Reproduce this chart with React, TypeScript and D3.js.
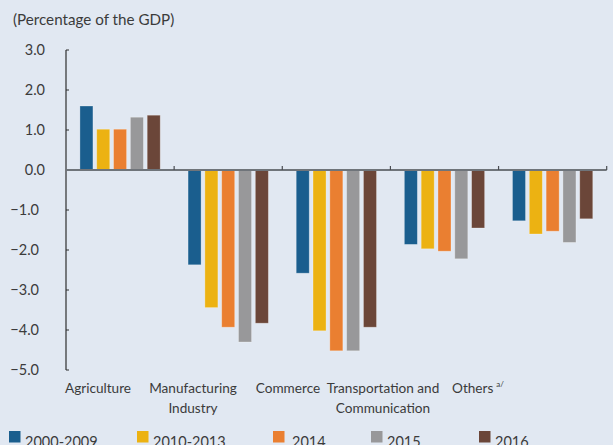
import { useEffect, useRef } from 'react';
import * as d3 from 'd3';

const categories = ['Agriculture', 'Manufacturing Industry', 'Commerce', 'Transportation and Communication', 'Others'];
const categoryLines = [['Agriculture'], ['Manufacturing', 'Industry'], ['Commerce'], ['Transportation and', 'Communication'], ['Others']];
const series = ['2000-2009', '2010-2013', '2014', '2015', '2016'];
const colors = ['#1a5e8e', '#ecb212', '#ea7f31', '#98989a', '#6b4639'];

const v2000_2009 = [1.6, -2.37, -2.58, -1.86, -1.27];
const v2010_2013 = [1.02, -3.44, -4.02, -1.97, -1.6];
const v2014 = [1.02, -3.93, -4.52, -2.03, -1.53];
const v2015 = [1.32, -4.3, -4.52, -2.22, -1.81];
const v2016 = [1.37, -3.83, -3.93, -1.45, -1.22];
const values = [v2000_2009, v2010_2013, v2014, v2015, v2016];

const yTicks = [3, 2, 1, 0, -1, -2, -3, -4, -5];
const legendX = [9, 137, 273, 371, 479];

const W = 613;
const H = 445;
const FONT = 'Lato, "Open Sans", sans-serif';
const TEXT = '#3b3b3b';

export default function App() {
  const ref = useRef<SVGSVGElement | null>(null);

  useEffect(() => {
    document.body.style.margin = '0';
    if (!ref.current) return;
    const svg = d3.select(ref.current);
    svg.selectAll('*').remove();

    svg.append('rect').attr('width', W).attr('height', H).attr('fill', '#e1e8f2');

    const x0 = d3.scaleBand<string>().domain(categories).range([66, 606.7]);
    const x1 = d3
      .scaleBand<string>()
      .domain(series)
      .range([0, x0.bandwidth()])
      .paddingInner(0.226)
      .paddingOuter(0.828);
    const y = d3.scaleLinear().domain([-5, 3]).range([370, 50]);
    const labelX = d3.scalePoint<string>().domain(categories).range([98, 478]);

    // title
    svg
      .append('text')
      .attr('x', 13)
      .attr('y', 25)
      .attr('font-family', FONT)
      .attr('font-size', 15.2)
      .attr('fill', TEXT)
      .text('(Percentage of the GDP)');

    // bars
    const groups = svg
      .append('g')
      .selectAll('g')
      .data(categories)
      .enter()
      .append('g')
      .attr('transform', (c) => `translate(${x0(c)},0)`);

    groups
      .selectAll('rect')
      .data((_, ci) => series.map((s, si) => ({ s, si, v: values[si][ci] })))
      .enter()
      .append('rect')
      .attr('x', (d) => x1(d.s)!)
      .attr('width', x1.bandwidth())
      .attr('y', (d) => y(Math.max(0, d.v)))
      .attr('height', (d) => Math.abs(y(d.v) - y(0)))
      .attr('fill', (d) => colors[d.si])
      .attr('stroke', 'rgba(255,255,255,0.35)')
      .attr('stroke-width', 0.8);

    // y axis
    svg
      .append('line')
      .attr('x1', 66)
      .attr('x2', 66)
      .attr('y1', y(3))
      .attr('y2', y(-5))
      .attr('stroke', '#2e2e2e')
      .attr('stroke-width', 1.2);
    svg
      .append('g')
      .selectAll('line')
      .data(yTicks)
      .enter()
      .append('line')
      .attr('x1', 66)
      .attr('x2', 69)
      .attr('y1', (d) => y(d))
      .attr('y2', (d) => y(d))
      .attr('stroke', '#2e2e2e')
      .attr('stroke-width', 1);
    svg
      .append('g')
      .selectAll('text')
      .data(yTicks)
      .enter()
      .append('text')
      .attr('x', (d) => (d < 0 ? 39 : 45))
      .attr('y', (d) => y(d))
      .attr('dy', '0.36em')
      .attr('text-anchor', 'end')
      .attr('font-family', FONT)
      .attr('font-size', 14.5)
      .attr('fill', TEXT)
      .text((d) => d3.format('.1f')(d));

    // zero line
    svg
      .append('line')
      .attr('x1', 66)
      .attr('x2', 606.7)
      .attr('y1', y(0))
      .attr('y2', y(0))
      .attr('stroke', '#6f747a')
      .attr('stroke-width', 2);
    svg
      .append('g')
      .selectAll('line')
      .data(categories)
      .enter()
      .append('line')
      .attr('x1', (c) => x0(c)! + x0.bandwidth())
      .attr('x2', (c) => x0(c)! + x0.bandwidth())
      .attr('y1', y(0) - 4)
      .attr('y2', y(0))
      .attr('stroke', '#4a4d52')
      .attr('stroke-width', 1.2);

    // category labels
    const labels = svg
      .append('g')
      .selectAll('text')
      .data(categories)
      .enter()
      .append('text')
      .attr('x', (c) => labelX(c)!)
      .attr('y', 393)
      .attr('text-anchor', 'middle')
      .attr('font-family', FONT)
      .attr('font-size', 13.6)
      .attr('fill', TEXT);
    labels.each(function (c, i) {
      const t = d3.select(this);
      categoryLines[i].forEach((line, li) => {
        t.append('tspan')
          .attr('x', labelX(c)!)
          .attr('dy', li === 0 ? 0 : 20)
          .text(line);
      });
      if (c === 'Others') {
        t.append('tspan').attr('font-size', 8).attr('dx', 3).attr('dy', -6).text('a/');
      }
    });

    // legend (cut off at the bottom edge, as in the source)
    const legend = svg
      .append('g')
      .selectAll('g')
      .data(series)
      .enter()
      .append('g')
      .attr('transform', (_, i) => `translate(${legendX[i]},431)`);
    legend
      .append('rect')
      .attr('width', 11.5)
      .attr('height', 11.5)
      .attr('fill', (_, i) => colors[i]);
    legend
      .append('text')
      .attr('x', (_, i) => (i === 2 ? 19 : 16))
      .attr('y', 16)
      .attr('font-family', FONT)
      .attr('font-size', 14.5)
      .attr('fill', TEXT)
      .text((d) => d);
  }, []);

  return <svg ref={ref} width={W} height={H} style={{ display: 'block' }} />;
}
